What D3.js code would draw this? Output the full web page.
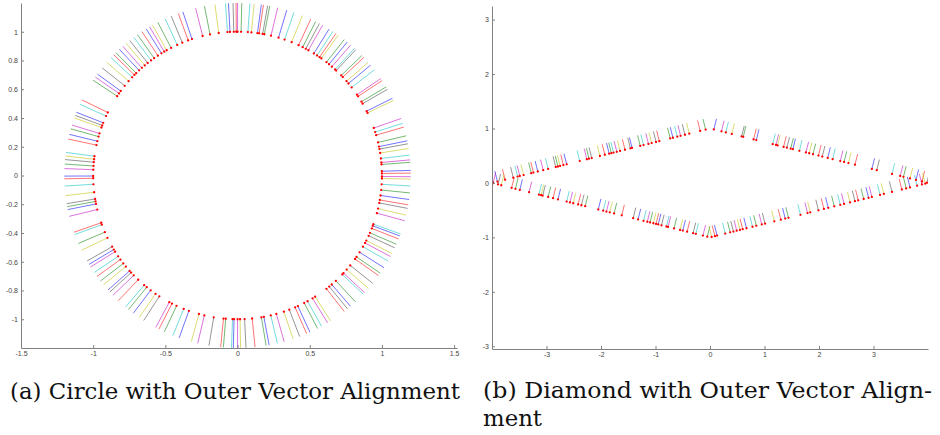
<!DOCTYPE html>
<html>
<head>
<meta charset="utf-8">
<script src="https://cdn.jsdelivr.net/npm/d3@7"></script>
<style>
    body { margin: 0; background: #fff; }
    .axis path, .axis line { stroke: #808080; }
    .axis text { fill: #444; font-family: "Liberation Sans", Arial, sans-serif; font-size: 7px; }
</style>
</head>
<body>
<div id="chart"></div>
<script>

// base angles (degrees) of the vectors placed on the unit circle
const circleAngles = [0.8, 1.7, 4.4, 5.2, 6.8, 9, 10.6, 11.6, 13.3, 16.3, 17.6, 19.3, 25.8, 26.6, 30, 30.9,
    33.4, 34.2, 37.8, 39.8, 41, 43.2, 44.1, 46.9, 47.5, 49.2, 50.7, 52, 54.5, 55.4, 56.6, 58.1, 60.6, 61.8,
    63.2, 65, 68, 71, 73.5, 76.6, 79.3, 80, 81.4, 82.1, 84.5, 85.9, 88.6, 90, 90.5, 91.5, 93, 94, 97.5, 101,
    104, 108.4, 110, 112.5, 114.7, 117.4, 119.4, 120.5, 121.8, 123.5, 125.3, 126.8, 128.5, 130, 131.5, 133,
    134.6, 135.6, 136.9, 139, 141.4, 144, 145.2, 146.5, 154, 155.6, 158.5, 159.6, 160.5, 163, 164.3, 166.2,
    167.8, 172.3, 173.5, 174.7, 176.2, 177.7, 180.2, 181.1, 183.5, 186.7, 189.4, 190.4, 191.4, 193.7, 199.2,
    200, 203.2, 205.7, 209.7, 211, 212, 214.2, 215.8, 217.7, 219.3, 221.6, 222.5, 224, 226.5, 229.7, 231, 233,
    235.4, 237.2, 241.8, 243, 245, 248.1, 250.3, 254.5, 256.7, 260.5, 264.4, 265.3, 268, 268.6, 270, 271,
    272.8, 275.8, 279.5, 280.5, 283.3, 285.6, 288.7, 291, 293.5, 294.7, 297.5, 299, 301.3, 302.5, 308, 309.4,
    310.7, 312.9, 316.5, 317.2, 319.1, 321.3, 324.5, 325.5, 327.7, 330.3, 332, 333.1, 335.2, 336.5, 338.4,
    339.5, 340.2, 344.8, 346.7, 349, 350.2, 352, 354.2, 356.5, 358.8, 359.6];
const circleColors = "rbgmcykbgrcmybkgrmcbyrgkcmbgyrcbmkgrycbmgkrbycgmrkbcygmbrkcgymbrgckymbgrcykbmgrcbkymgbrcykgmbrcykgbmrcgykbmcrgybkmrcgbykmrgcbymkrgcbmykrgbcmykrbgcmyrkbgcmykrgbcmykgrbcmykrbgcym";

// x positions of the vectors on the upper and lower edges of the diamond
const diamondUpperX = [-3.98, -3.9, -3.76, -3.61, -3.53, -3.49, -3.42, -3.28, -3.24, -3.16, -3.06, -2.97,
    -2.83, -2.79, -2.75, -2.69, -2.63, -2.39, -2.26, -2.22, -2.17, -2.02, -1.93, -1.85, -1.81, -1.77, -1.71,
    -1.65, -1.56, -1.46, -1.43, -1.28, -1.22, -1.13, -1.07, -0.99, -0.93, -0.73, -0.68, -0.6, -0.54, -0.46,
    -0.38, -0.18, -0.08, 0.07, 0.21, 0.29, 0.4, 0.58, 0.61, 0.8, 0.85, 1.15, 1.21, 1.24, 1.35, 1.41, 1.48,
    1.52, 1.64, 1.76, 1.82, 1.89, 1.99, 2.06, 2.16, 2.25, 2.39, 2.46, 2.54, 2.66, 2.97, 3.06, 3.34, 3.49,
    3.55, 3.67, 3.78, 3.89, 3.98];
const diamondLowerX = [-3.98, -3.89, -3.83, -3.64, -3.57, -3.49, -3.32, -3.14, -3.1, -3.07, -2.97, -2.88,
    -2.79, -2.63, -2.57, -2.51, -2.42, -2.36, -2.29, -2.05, -1.96, -1.9, -1.84, -1.76, -1.62, -1.41, -1.32,
    -1.22, -1.15, -1.1, -1.04, -0.99, -0.95, -0.89, -0.8, -0.77, -0.66, -0.55, -0.5, -0.42, -0.31, -0.26,
    -0.13, -0.05, 0.03, 0.09, 0.13, 0.28, 0.37, 0.43, 0.49, 0.55, 0.6, 0.67, 0.78, 0.85, 0.95, 1.01, 1.18,
    1.3, 1.38, 1.44, 1.66, 1.79, 1.84, 1.99, 2.09, 2.17, 2.28, 2.39, 2.46, 2.57, 2.66, 2.72, 2.82, 2.91,
    2.97, 3.12, 3.19, 3.34, 3.52, 3.6, 3.67, 3.8, 3.89, 3.95];
const diamondColors = "gbrkcmygrbmckgyrbcmgkyrbgcmyrkbgcmykrgbcmkyrgbmcykgrbcmyrkgbcmygrkbcmgyrbkcmgybrkcmgyrbcgkmyrbcgmkyrbgcmykrbgcmykrgbmcykrgbcmykgrbcmykrbgcmykrgbcmykgrbcmyk";

const vectorLength = 0.2;

const circleXTicks = [-1.5, -1, -0.5, 0, 0.5, 1, 1.5];
const circleYTicks = [-1, -0.8, -0.6, -0.4, -0.2, 0, 0.2, 0.4, 0.6, 0.8, 1];
const diamondXTicks = [-3, -2, -1, 0, 1, 2, 3];
const diamondYTicks = [-3, -2, -1, 0, 1, 2, 3];

const captionA = "(a) Circle with Outer Vector Alignment";
const captionB = ["(b) Diamond with Outer Vector Align-", "ment"];

const matlabColors = { b: "#0000ff", g: "#008000", r: "#ff0000", c: "#00bfbf", m: "#bf00bf", y: "#bfbf00", k: "#404040" };

const svg = d3.select("#chart").append("svg")
    .attr("width", 940)
    .attr("height", 435);

// one quiver panel: axes, clipped vectors and red base dots
function drawPanel(id, vectors, xDomain, xRange, yDomain, yRange, xTicks, yTicks) {
    let x = d3.scaleLinear().domain(xDomain).range(xRange);
    let y = d3.scaleLinear().domain(yDomain).range(yRange);

    svg.append("clipPath").attr("id", id)
        .append("rect")
        .attr("x", xRange[0]).attr("y", yRange[1])
        .attr("width", xRange[1] - xRange[0]).attr("height", yRange[0] - yRange[1]);

    let g = svg.append("g").attr("clip-path", `url(#${id})`);

    g.selectAll("line.vec").data(vectors)
        .enter().append("line")
        .attr("class", "vec")
        .attr("x1", d => x(d.x))
        .attr("y1", d => y(d.y))
        .attr("x2", d => x(d.x + d.u))
        .attr("y2", d => y(d.y + d.v))
        .style("stroke", d => matlabColors[d.c])
        .style("stroke-width", 1)
        .style("stroke-opacity", 0.55);

    g.selectAll("circle.dot").data(vectors)
        .enter().append("circle")
        .attr("class", "dot")
        .attr("cx", d => x(d.x))
        .attr("cy", d => y(d.y))
        .attr("r", 1.15)
        .style("fill", "#ff0000");

    svg.append("g")
        .attr("class", "axis")
        .attr("transform", `translate(0, ${yRange[0]})`)
        .call(d3.axisBottom(x).tickValues(xTicks).tickSize(-3).tickSizeOuter(0).tickPadding(3).tickFormat(String));

    svg.append("g")
        .attr("class", "axis")
        .attr("transform", `translate(${xRange[0]}, 0)`)
        .call(d3.axisLeft(y).tickValues(yTicks).tickSize(-3).tickSizeOuter(0).tickPadding(3).tickFormat(String));
}

let circleVectors = circleAngles.map((a, i) => {
    let t = a * Math.PI / 180;
    return { x: Math.cos(t), y: Math.sin(t),
        u: vectorLength * Math.cos(t), v: vectorLength * Math.sin(t),
        c: circleColors.charAt(i % circleColors.length) };
});

// vectors on the diamond |x|/4 + |y| = 1 follow the upward edge normal
let n = Math.sqrt(17);
let diamondVectors = [];
diamondUpperX.forEach((px, i) => {
    let s = px < 0 ? -1 : 1;
    diamondVectors.push({ x: px, y: 1 - Math.abs(px) / 4,
        u: vectorLength * s / n, v: vectorLength * 4 / n,
        c: diamondColors.charAt(i % diamondColors.length) });
});
diamondLowerX.forEach((px, i) => {
    let s = px < 0 ? 1 : -1;
    diamondVectors.push({ x: px, y: -(1 - Math.abs(px) / 4),
        u: vectorLength * s / n, v: vectorLength * 4 / n,
        c: diamondColors.charAt((i + 40) % diamondColors.length) });
});

drawPanel("clipA", circleVectors, [-1.5, 1.52], [21, 457], [-1.2, 1.2], [348, 3], circleXTicks, circleYTicks);
drawPanel("clipB", diamondVectors, [-4, 4], [492, 928], [-3.05, 3.25], [349, 6], diamondXTicks, diamondYTicks);

// captions, serif like the LaTeX figure
function caption(txt, x, y, width) {
    svg.append("text")
        .attr("x", x).attr("y", y)
        .attr("font-family", "DejaVu Serif")
        .attr("font-size", 23)
        .attr("fill", "#111")
        .attr("textLength", width)
        .attr("lengthAdjust", "spacingAndGlyphs")
        .text(txt);
}

caption(captionA, 10, 399, 450);
caption(captionB[0], 483, 398, 449);
caption(captionB[1], 483, 426, 59);

</script>
</body>
</html>
